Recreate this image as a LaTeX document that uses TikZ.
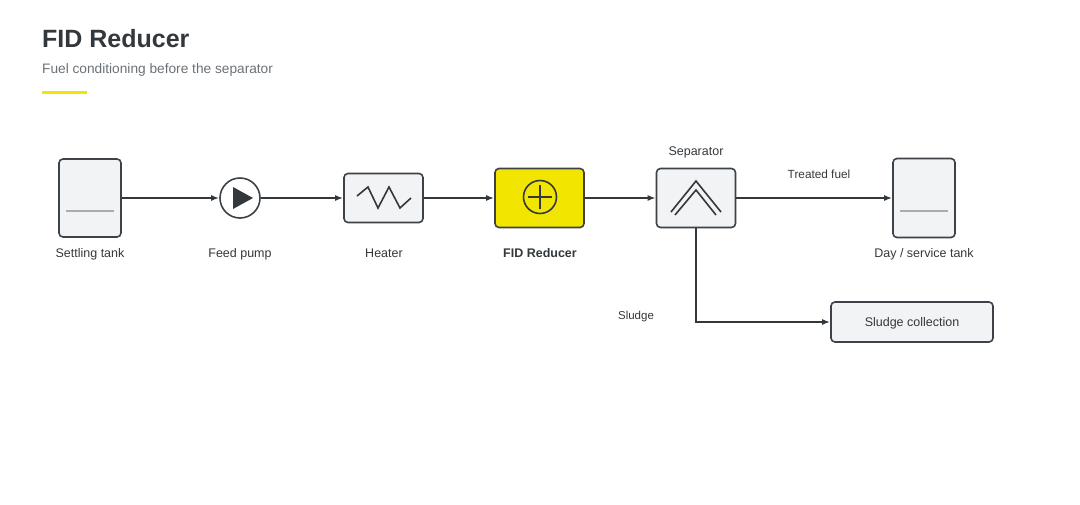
\documentclass[tikz,border=0pt]{standalone}
\usepackage{fontspec}
\setmainfont{Liberation Sans}
\usepackage{xcolor}
\usetikzlibrary{arrows.meta, positioning}

\definecolor{ink}{HTML}{33383C}
\definecolor{edge}{HTML}{3C4247}
\definecolor{boxfill}{HTML}{F1F3F5}
\definecolor{level}{HTML}{A9ADB0}
\definecolor{subgray}{HTML}{6B7177}
\definecolor{fidyellow}{HTML}{F2E600}

\begin{document}
\begin{tikzpicture}[x=1pt, y=-1pt, font=\fontsize{12.5}{15}\selectfont,
  unit/.style={draw=edge, fill=boxfill, rounded corners=4pt, line width=1.6pt, inner sep=0pt},
  flow/.style={draw=ink, line width=1.6pt, -{Latex[length=8pt,width=6pt]}},
  tag/.style={text=ink, inner sep=0pt, anchor=base},
  glyph/.style={draw=ink, line width=1.6pt}]

\useasboundingbox (0,0) rectangle (1080,504);

\node[anchor=base west, inner sep=0pt, text=ink, font=\fontsize{25}{30}\selectfont\bfseries] (title) at (42,47) {FID Reducer};
\node[anchor=base west, inner sep=0pt, text=subgray, font=\fontsize{13.7}{16}\selectfont] (subtitle) at (42,73) {Fuel conditioning before the separator};
\draw [fidyellow, line width=3pt] (42,92) -- (87,92);

\node[unit, minimum width=62pt, minimum height=78pt] (settling) at (90,198) {};
\node[unit, circle, fill=white, minimum size=40pt] (pump) at (240,198) {};
\node[unit, minimum width=79pt, minimum height=49pt] (heater) at (383.5,198) {};
\node[unit, fill=fidyellow, minimum width=89pt, minimum height=59pt] (fid) at (539.5,198) {};
\node[unit, minimum width=79pt, minimum height=59pt] (separator) at (696,198) {};
\node[unit, minimum width=62pt, minimum height=79pt] (daytank) at (924,198) {};
\node[unit, minimum width=162pt, minimum height=40pt, text depth=0pt, text=ink] (sludgebox) at (912,322) {Sludge collection};

\draw [level, line width=1.6pt] (66,211) -- (114,211);
\draw [level, line width=1.6pt] (900,211) -- (948,211);
\fill [ink] (233,187) -- (253,198) -- (233,209) -- cycle;
\draw [glyph, line join=miter] (357,196) -- (368,187) -- (378,208) -- (389,187) -- (400,208) -- (411,198);
\draw [glyph] (540,197) circle (16.5pt);
\draw [glyph] (528,197) -- (552,197);
\draw [glyph] (540,185) -- (540,209);
\draw [glyph] (671,212) -- (696,181) -- (721,212);
\draw [glyph] (675,215) -- (696,190) -- (716,215);

\node[tag] (settling-lbl) at (90,257) {Settling tank};
\node[tag] (pump-lbl) at (240,257) {Feed pump};
\node[tag] (heater-lbl) at (384,257) {Heater};
\node[tag, font=\fontsize{12.5}{15}\selectfont\bfseries] (fid-lbl) at (540,257) {FID Reducer};
\node[tag] (separator-lbl) at (696,155) {Separator};
\node[tag] (daytank-lbl) at (924,257) {Day / service tank};
\node[tag, font=\fontsize{11.8}{14}\selectfont] (treated-lbl) at (819,178) {Treated fuel};
\node[tag, font=\fontsize{11.5}{14}\selectfont] (sludge-lbl) at (636,319) {Sludge};

\draw [flow] (settling.east) -- (pump.west);
\draw [flow] (pump.east) -- (heater.west);
\draw [flow] (heater.east) -- (fid.west);
\draw [flow] (fid.east) -- (separator.west);
\draw [flow] (separator.east) -- (daytank.west);
\draw [flow] (separator.south) |- (sludgebox.west);

\end{tikzpicture}
\end{document}
